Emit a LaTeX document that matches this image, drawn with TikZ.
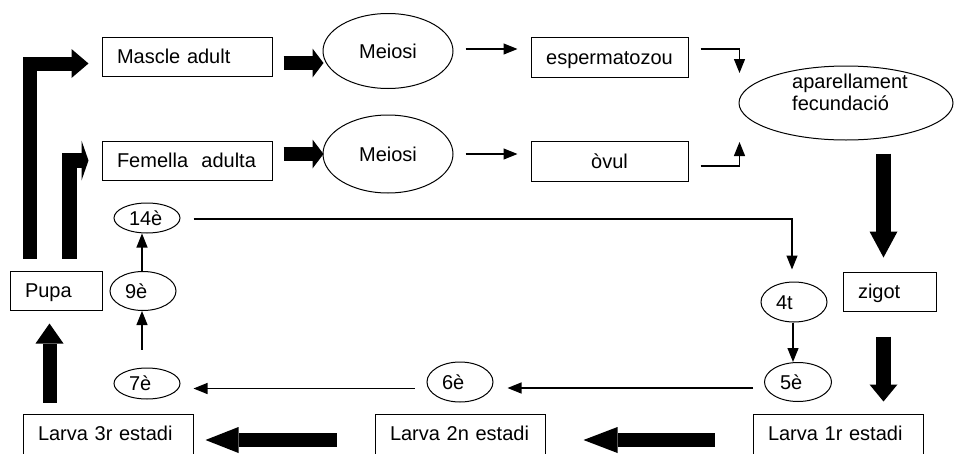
\documentclass[tikz,border=0pt]{standalone}
\usepackage{fontspec}
\setmainfont{Liberation Sans}
\usetikzlibrary{arrows.meta,shapes.geometric,calc}
\begin{document}
\begin{tikzpicture}[x=1pt,y=-1pt,
  every node/.style={font=\fontsize{20pt}{22pt}\selectfont},
  lbox/.style={draw, line width=1pt, inner xsep=15pt, inner ysep=0pt, align=left, text height=14.3pt, text depth=0pt},
  cbox/.style={draw, line width=1pt, inner sep=0pt, align=center, text height=14.3pt, text depth=0pt},
  oval/.style={draw, ellipse, line width=1pt, inner sep=0pt},
  stage/.style={oval, text width=36pt, align=left, text height=14.3pt, text depth=0pt, minimum width=66pt},
  conn/.style={line width=1.2pt, -{Triangle[length=14pt,width=11pt]}},
  fat/.style={line width=14pt, line join=miter},
]
\useasboundingbox (0,0) rectangle (954,453);

% boxes
\node[lbox, text width=140pt, minimum height=39pt] (mascle) at (187,56.5) {Mascle adult};
\node[lbox, text width=140pt, minimum height=39pt] (femella) at (187,160.5) {Femella\ \ adulta};
\node[cbox, minimum width=157pt, minimum height=40pt] (esp) at (609.5,57) {espermatozou};
\node[cbox, minimum width=157pt, minimum height=40pt] (ovul) at (609.5,161) {òvul};
\node[lbox, text width=63pt, minimum height=39pt] (zigot) at (889.5,291.5) {zigot};
\node[lbox, text width=62pt, minimum height=39pt] (pupa) at (56,290.5) {Pupa};
\node[lbox, text width=140pt, minimum height=44pt, text depth=5pt] (l3) at (108,436) {Larva 3r estadi};
\node[lbox, text width=140pt, minimum height=44pt, text depth=5pt] (l2) at (460,436) {Larva 2n estadi};
\node[lbox, text width=140pt, minimum height=44pt, text depth=5pt] (l1) at (838,436) {Larva 1r estadi};

% ellipses
\node[oval, minimum width=130pt, minimum height=75pt] (m1) at (388,51) {Meiosi};
\node[oval, minimum width=130pt, minimum height=78pt] (m2) at (388,154) {Meiosi};
\node[oval, minimum width=214pt, minimum height=74pt,
  label={[align=left, xshift=4pt, yshift=11pt]center:aparellament\\fecundació}] (ap) at (846,103) {};

\node[stage, minimum height=30pt] (e14) at (147,218) {14è};
\node[stage, minimum height=39pt] (e9) at (143,291) {9è};
\node[stage, minimum height=31pt] (e7) at (147,383.5) {7è};
\node[stage, minimum height=40pt] (e4) at (794,302) {4t};
\node[stage, minimum height=39pt, minimum width=67pt] (e5) at (798,382) {5è};
\node[stage, minimum height=40pt] (e6) at (460,382) {6è};

% thin connectors
\draw[conn] ($(m1.east)+(12,-2)$) -- ($(esp.west)+(-13,-8)$);
\draw[conn] ($(m2.east)+(12,0)$) -- ($(ovul.west)+(-13,-7)$);
\draw[conn] ($(esp.east)+(12,-8)$) -| ($(ap.west)+(1,-30)$);
\draw[conn] ($(ovul.east)+(12,5)$) -| ($(ap.west)+(1,39)$);
\draw[conn] ($(e14.east)+(13,1)$) -| ($(e4.north)+(-2,-12)$);
\draw[conn] ($(e4.south)+(-1,0)$) -- ($(e5.north)+(-5,0)$);
\draw[conn] ($(e5.west)+(-11,6)$) -- ($(e6.east)+(14,6)$);
\draw[conn] ($(e6.west)+(-12,6.5)$) -- ($(e7.east)+(13,5)$);
\draw[conn] ($(e7.north)+(-5,-18)$) -- ($(e9.south)+(-1,0)$);
\draw[conn] ($(e9.north)+(-1,0)$) -- ($(e14.south)+(-5,0)$);

% thick connectors
\draw[fat, -{Triangle[length=11pt,width=29pt,line width=0pt]}] ($(mascle.east)+(11,6.5)$) -- ($(m1.west)+(1,12)$);
\draw[fat, -{Triangle[length=11pt,width=29pt,line width=0pt]}] ($(femella.east)+(11,-6.5)$) -- ($(m2.west)+(1,0)$);
\draw[fat, -{Triangle[length=17pt,width=29pt,line width=0pt]}] ($(pupa.north west)+(20,-12)$) |- ($(mascle.west)+(-13,7)$);
\draw[fat, line width=15pt, -{Triangle[length=7pt,width=40pt,line width=0pt]}] ($(pupa.north west)+(59.5,-12)$) |- ($(femella.west)+(-13,0)$);
\draw[fat, line width=15pt, -{Triangle[length=26pt,width=28pt,line width=0pt]}] ($(ap.south)+(37.5,13)$) -- ($(zigot.north)+(-6,-14)$);
\draw[fat, line width=15pt, -{Triangle[length=17pt,width=28pt,line width=0pt]}] ($(zigot.south)+(-6,25)$) -- ($(l1.north)+(45.5,-12)$);
\draw[fat, -{Triangle[length=34pt,width=26pt,line width=0pt]}] ($(l1.west)+(-38,4)$) -- ($(l2.east)+(38,4)$);
\draw[fat, -{Triangle[length=33pt,width=26pt,line width=0pt]}] ($(l2.west)+(-38,4)$) -- ($(l3.east)+(12,4)$);
\draw[fat, -{Triangle[length=20pt,width=28pt,line width=0pt]}] ($(l3.north west)+(27,-11)$) -- ($(pupa.south west)+(40,13)$);
\end{tikzpicture}
\end{document}
